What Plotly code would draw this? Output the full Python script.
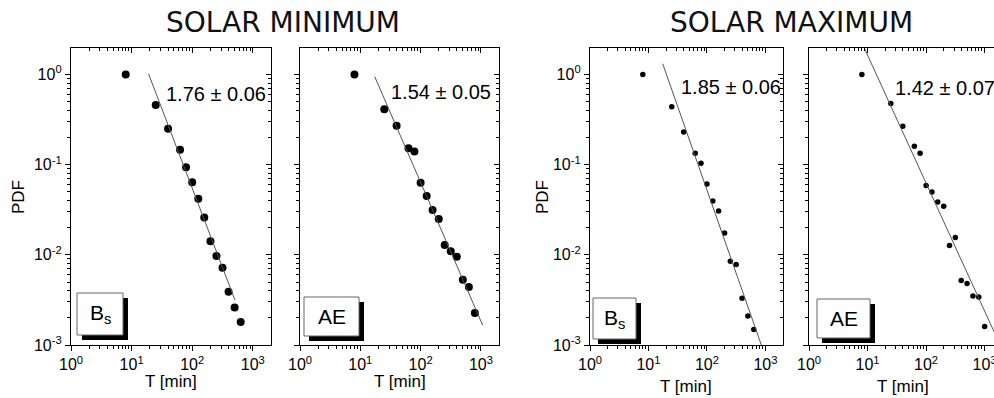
import plotly.graph_objects as go

# ---------------- data ----------------
T_MIN_BS = [8, 25, 40, 63, 79, 100, 126, 158, 200, 251, 316, 398, 501, 631]
PDF_MIN_BS = [1.0, 0.46, 0.25, 0.147, 0.094, 0.064, 0.042, 0.0259, 0.0142, 0.0097, 0.0072, 0.0039, 0.0026, 0.0018]

T_MIN_AE = [8, 25, 40, 63, 79, 100, 126, 158, 200, 251, 316, 398, 501, 631, 794]
PDF_MIN_AE = [1.0, 0.413, 0.27, 0.152, 0.140, 0.063, 0.045, 0.0315, 0.025, 0.0129, 0.011, 0.0095, 0.0053, 0.0044, 0.00226]

T_MAX_BS = [8, 25, 40, 63, 79, 100, 126, 158, 200, 251, 316, 398, 501, 631]
PDF_MAX_BS = [1.0, 0.44, 0.23, 0.134, 0.104, 0.061, 0.0395, 0.0306, 0.0175, 0.0085, 0.0078, 0.0033, 0.0021, 0.00149]

T_MAX_AE = [8, 25, 40, 63, 79, 100, 126, 158, 200, 251, 316, 398, 501, 631, 794, 1000]
PDF_MAX_AE = [1.0, 0.477, 0.267, 0.16, 0.134, 0.059, 0.0497, 0.0385, 0.0347, 0.0127, 0.0156, 0.0052, 0.0048, 0.0035, 0.0034, 0.0016]

FIT_EXPONENT = [1.76, 1.54, 1.85, 1.42]
FIT_ERROR = [0.06, 0.05, 0.06, 0.07]
FIT_LOG_AMPLITUDE = [2.26, 1.885, 2.42, 1.636]
FIT_T_START = [19, 17.3, 17.5, 7]
FIT_T_END = [507, 1070, 1000, 2000]

PANEL_LABELS = ["B<sub>s</sub>", "AE", "B<sub>s</sub>", "AE"]
TITLES = ["SOLAR MINIMUM", "SOLAR MAXIMUM"]
X_TICKVALS = [1, 10, 100, 1000]
X_TICKTEXT = ["10<sup>0</sup>", "10<sup>1</sup>", "10<sup>2</sup>", "10<sup>3</sup>"]
Y_TICKVALS = [1, 0.1, 0.01, 0.001]
Y_TICKTEXT = ["10<sup>0</sup>", "10<sup>-1</sup>", "10<sup>-2</sup>", "10<sup>-3</sup>"]

# ---------------- layout geometry (pixels) ----------------
W, H = 994, 398
def px(x): return x / W
def py(y): return 1 - y / H

panel_x = [(71, 271), (300, 499), (590, 783), (809, 994)]
x_ranges = [[0, 3.3], [0, 3.3], [0, 3.3], [0, 3.16]]
y_dom = [py(345), py(48)]
y_range = [-3, 0.295]
marker_sizes = [8, 8, 5.5, 5.5]

series = [(T_MIN_BS, PDF_MIN_BS), (T_MIN_AE, PDF_MIN_AE),
          (T_MAX_BS, PDF_MAX_BS), (T_MAX_AE, PDF_MAX_AE)]

FONT = "Liberation Sans, Arial, sans-serif"
fig = go.Figure()

layout = dict(
    template="none",
    width=W, height=H, margin=dict(l=0, r=0, t=0, b=0, pad=0, autoexpand=False),
    paper_bgcolor="white", plot_bgcolor="white", showlegend=False,
    font=dict(family=FONT, size=16, color="black"),
)

shapes = []
annotations = []

for i in range(4):
    n = i + 1
    xa = "x" if n == 1 else f"x{n}"
    ya = "y" if n == 1 else f"y{n}"
    xo, yo = f"x{n + 4}", f"y{n + 4}"
    tx, ty = series[i]

    fig.add_trace(go.Scatter(x=tx, y=ty, mode="markers", xaxis=xa, yaxis=ya,
                             marker=dict(color="black", size=marker_sizes[i]),
                             cliponaxis=False))
    a = FIT_EXPONENT[i]
    c = 10 ** FIT_LOG_AMPLITUDE[i]
    xs = [FIT_T_START[i], FIT_T_END[i]]
    ys = [c * v ** (-a) for v in xs]
    fig.add_trace(go.Scatter(x=xs, y=ys, mode="lines", xaxis=xa, yaxis=ya,
                             line=dict(color="#555555", width=1)))
    # invisible trace so the overlay (top/right frame) axes are drawn
    fig.add_trace(go.Scatter(x=[10], y=[1], mode="markers", xaxis=xo, yaxis=yo,
                             marker=dict(opacity=0), hoverinfo="skip"))

    dom = [px(panel_x[i][0]), min(1.0, px(panel_x[i][1]))]
    common = dict(type="log", showgrid=False, zeroline=False, automargin=False,
                  linecolor="black", linewidth=1.3, tickcolor="black", tickwidth=1)
    layout[f"xaxis{'' if n == 1 else n}"] = dict(
        common, domain=dom, range=x_ranges[i], anchor=ya,
        tickvals=X_TICKVALS, ticktext=X_TICKTEXT, ticks="outside", ticklen=5,
        showline=True, ticklabeloverflow="allow",
        minor=dict(ticks="outside", ticklen=3, tickcolor="black", dtick="D1", showgrid=False),
        tickfont=dict(size=16, family=FONT, color="black"))
    show_y_labels = n in (1, 3)
    layout[f"yaxis{'' if n == 1 else n}"] = dict(
        common, domain=y_dom, range=y_range, anchor=xa,
        tickvals=Y_TICKVALS,
        ticktext=Y_TICKTEXT if show_y_labels else [" "] * 4,
        showticklabels=show_y_labels,
        ticks="outside", ticklen=5, showline=True,
        minor=dict(ticks="outside", ticklen=3, tickcolor="black", dtick="D1", showgrid=False),
        tickfont=dict(size=16, family=FONT, color="black"))
    # top and right frames with inward ticks
    layout[f"xaxis{n + 4}"] = dict(
        common, domain=dom, range=x_ranges[i], anchor=yo, overlaying=xa, side="top",
        tickvals=X_TICKVALS, showticklabels=False, ticks="inside", ticklen=5,
        showline=True,
        minor=dict(ticks="inside", ticklen=3, tickcolor="black", dtick="D1", showgrid=False))
    has_right = n != 4
    layout[f"yaxis{n + 4}"] = dict(
        common, domain=y_dom, range=y_range, anchor=xo, overlaying=ya, side="right",
        tickvals=Y_TICKVALS, showticklabels=False,
        ticks="inside" if has_right else "", ticklen=5, showline=has_right,
        minor=dict(ticks="inside" if has_right else "", ticklen=3, tickcolor="black",
                   dtick="D1", showgrid=False))

# ---------------- decoration ----------------
boxes = [(77, 293, 123, 335), (304, 297, 359, 336), (593, 298, 636, 339), (817, 299, 870, 338)]
for (x0, y0, x1, y1), lab in zip(boxes, PANEL_LABELS):
    shapes.append(dict(type="rect", xref="paper", yref="paper",
                       x0=px(x0 + 5), x1=px(x1 + 5), y0=py(y1 + 5), y1=py(y0 + 5),
                       fillcolor="black", line=dict(width=0)))
    shapes.append(dict(type="rect", xref="paper", yref="paper",
                       x0=px(x0), x1=px(x1), y0=py(y1), y1=py(y0),
                       fillcolor="white", line=dict(color="#666666", width=1)))
    annotations.append(dict(text=lab, xref="paper", yref="paper",
                            x=px((x0 + x1) / 2), y=py((y0 + y1) / 2),
                            showarrow=False, xanchor="center", yanchor="middle",
                            font=dict(size=21, family=FONT, color="black")))

fit_text_pos = [(216, 94), (441, 92), (731, 87), (945, 88)]
for (x, y), a, e in zip(fit_text_pos, FIT_EXPONENT, FIT_ERROR):
    annotations.append(dict(text=f"{a:.2f} ± {e:.2f}", xref="paper", yref="paper",
                            x=px(x), y=py(y), showarrow=False, xanchor="center", yanchor="middle",
                            font=dict(size=20, family=FONT, color="black")))

for cx, cy in [(171, 381), (400, 381), (686, 386), (903, 386)]:
    annotations.append(dict(text="T [min]", xref="paper", yref="paper", x=px(cx), y=py(cy),
                            showarrow=False, xanchor="center", yanchor="middle",
                            font=dict(size=17, family=FONT, color="black")))
for cx, cy in [(18, 197), (542, 197)]:
    annotations.append(dict(text="PDF", xref="paper", yref="paper", x=px(cx), y=py(cy),
                            showarrow=False, textangle=-90, xanchor="center", yanchor="middle",
                            font=dict(size=17, family=FONT, color="black")))

for (cx, t) in zip([283, 791], TITLES):
    annotations.append(dict(text=t, xref="paper", yref="paper", x=px(cx), y=py(23),
                            showarrow=False, xanchor="center", yanchor="middle",
                            font=dict(size=28, family="DejaVu Sans", color="#111111")))

layout["shapes"] = shapes
layout["annotations"] = annotations
fig.update_layout(**layout)
fig.write_html(
    "out.html",
    config={"displayModeBar": False},
    post_script="document.body.style.margin='0';document.body.style.overflow='hidden';",
)
